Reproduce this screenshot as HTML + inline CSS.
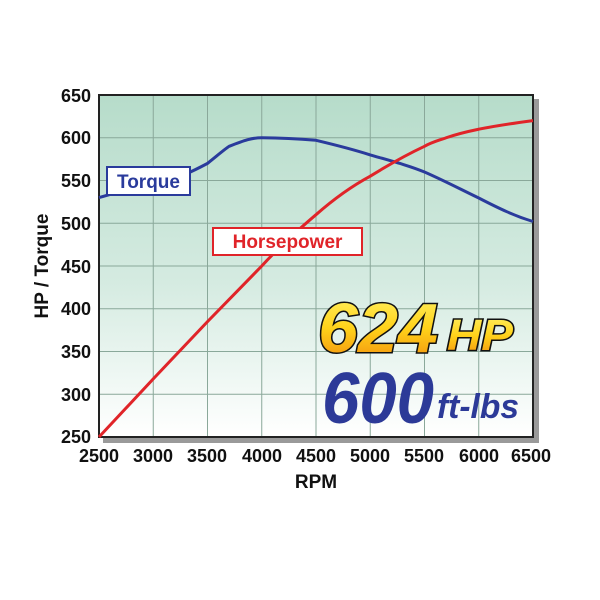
<!DOCTYPE html>
<html><head><meta charset="utf-8"><style>body{margin:0;background:#fff}</style></head><body>
<svg width="600" height="600" xmlns="http://www.w3.org/2000/svg" style="display:block">
<defs>
<linearGradient id="bg" x1="0" y1="0" x2="0" y2="1">
<stop offset="0" stop-color="#b6dcca"/><stop offset="0.55" stop-color="#d5ebe1"/><stop offset="1" stop-color="#ffffff"/></linearGradient>
<linearGradient id="gold" x1="0" y1="0" x2="0" y2="1">
<stop offset="0" stop-color="#fff46a"/><stop offset="0.5" stop-color="#ffd21a"/><stop offset="1" stop-color="#f28a0c"/></linearGradient>
</defs>
<rect x="103" y="99" width="436" height="344" fill="#9a9a9a"/>
<rect x="99" y="95" width="434" height="342" fill="url(#bg)" stroke="#222" stroke-width="2"/>
<g stroke="#8aa89a" stroke-width="1">
<line x1="153.25" y1="95" x2="153.25" y2="437"/><line x1="207.5" y1="95" x2="207.5" y2="437"/>
<line x1="261.75" y1="95" x2="261.75" y2="437"/><line x1="316" y1="95" x2="316" y2="437"/>
<line x1="370.25" y1="95" x2="370.25" y2="437"/><line x1="424.5" y1="95" x2="424.5" y2="437"/>
<line x1="478.75" y1="95" x2="478.75" y2="437"/>
<line x1="99" y1="137.75" x2="533" y2="137.75"/><line x1="99" y1="180.5" x2="533" y2="180.5"/>
<line x1="99" y1="223.25" x2="533" y2="223.25"/><line x1="99" y1="266" x2="533" y2="266"/>
<line x1="99" y1="308.75" x2="533" y2="308.75"/><line x1="99" y1="351.5" x2="533" y2="351.5"/>
<line x1="99" y1="394.25" x2="533" y2="394.25"/>
</g>
<rect x="99" y="95" width="434" height="342" fill="none" stroke="#222" stroke-width="2"/>
<path d="M99,197.6 C125,190 140,186 153.25,184.8 C180,178 195,170 207.5,163.4 C218,155 225,149 229.2,146.3 C245,140 252,137.75 261.75,137.75 C285,138 300,139 316,140.3 C340,146 355,150 370.25,154.9 C395,162 410,166 424.5,172 C445,181 462,190 478.75,198 C500,209 515,216 533,221.5" fill="none" stroke="#2a3b9c" stroke-width="3" stroke-linejoin="round"/>
<path d="M99,437 L153.25,378.9 L207.5,321.6 L261.75,266 C280,246 298,230 316,214.7 C335,198 352,186 370.25,176.2 C390,164 408,154 424.5,146.3 C432,142 440,140 446.2,137.75 C460,133 470,131 478.75,129.2 C500,125 515,123 533,120.6" fill="none" stroke="#e02429" stroke-width="3"/>
<rect x="107" y="167" width="83" height="28" fill="#fff" stroke="#2a3b9c" stroke-width="2"/>
<text x="148.5" y="188" text-anchor="middle" font-family="Liberation Sans, sans-serif" font-weight="bold" font-size="19" fill="#2a3b9c">Torque</text>
<rect x="213" y="228" width="149" height="27" fill="#fff" stroke="#e02429" stroke-width="2"/>
<text x="287.5" y="248" text-anchor="middle" font-family="Liberation Sans, sans-serif" font-weight="bold" font-size="19" fill="#e02429">Horsepower</text>
<g font-family="Liberation Sans, sans-serif" font-weight="bold" font-style="italic">
<text x="318" y="352" font-size="70" fill="url(#gold)" stroke="#111" stroke-width="3" paint-order="stroke" textLength="120" lengthAdjust="spacingAndGlyphs">624</text>
<text x="447" y="350" font-size="44" fill="url(#gold)" stroke="#111" stroke-width="3" paint-order="stroke" textLength="66" lengthAdjust="spacingAndGlyphs">HP</text>
<text x="322" y="423" font-size="72" fill="#2c3a98" textLength="112" lengthAdjust="spacingAndGlyphs">600</text>
<text x="437" y="418" font-size="34" fill="#2c3a98" textLength="82" lengthAdjust="spacingAndGlyphs">ft-lbs</text>
</g>
<g font-family="Liberation Sans, sans-serif" font-weight="bold" font-size="18" fill="#111">
<g text-anchor="end">
<text x="91" y="102">650</text><text x="91" y="144">600</text><text x="91" y="187">550</text>
<text x="91" y="230">500</text><text x="91" y="273">450</text><text x="91" y="315">400</text>
<text x="91" y="358">350</text><text x="91" y="401">300</text><text x="91" y="443">250</text>
</g>
<g text-anchor="middle">
<text x="99" y="462">2500</text><text x="153" y="462">3000</text><text x="207" y="462">3500</text>
<text x="262" y="462">4000</text><text x="316" y="462">4500</text><text x="370" y="462">5000</text>
<text x="424" y="462">5500</text><text x="479" y="462">6000</text><text x="531" y="462">6500</text>
<text x="316" y="488" font-size="19">RPM</text>
</g>
<text transform="translate(48,266) rotate(-90)" text-anchor="middle" font-size="19">HP / Torque</text>
</g>
</svg>
</body></html>
